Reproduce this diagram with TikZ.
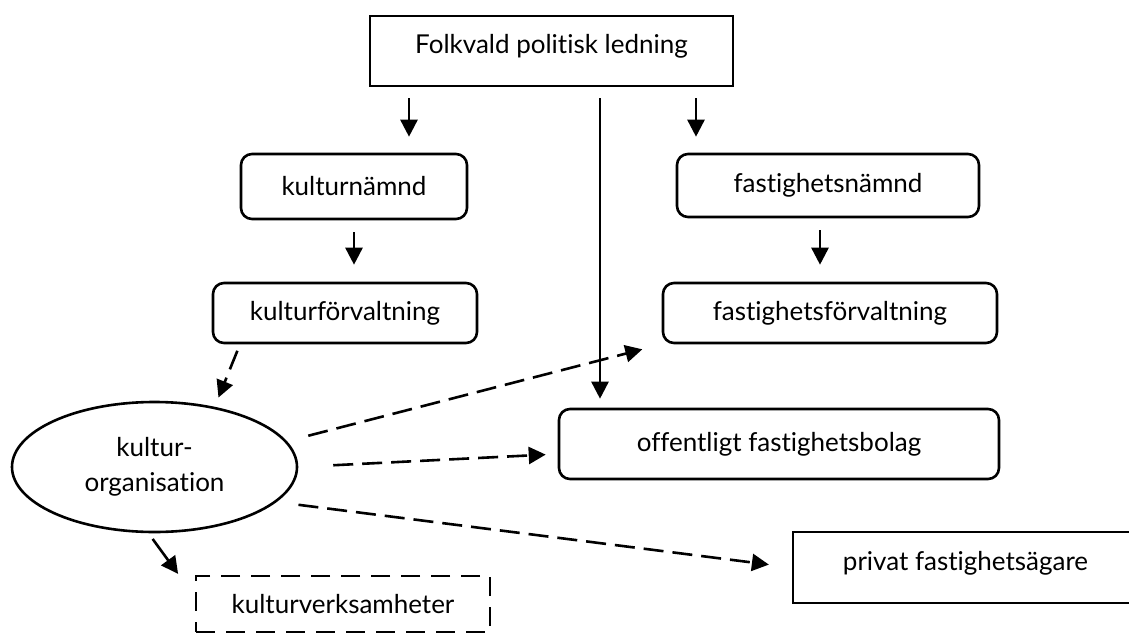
\documentclass[tikz,border=0pt]{standalone}
\usepackage{fontspec}
\setmainfont{Lato}[Ligatures=NoCommon]
\usetikzlibrary{shapes,shapes.geometric}
\usetikzlibrary{arrows.meta}

\begin{document}
\begin{tikzpicture}[x=1pt,y=-1pt]
\tikzset{ledbox/.style={rectangle,line width=2.6pt,inner sep=0pt,font=\fontsize{26}{30}\selectfont},
rbox/.style={ledbox,rounded corners=11pt},
dbox/.style={ledbox,dash pattern=on 19pt off 11pt},
oval/.style={ellipse,line width=2.6pt,align=center,font=\fontsize{26}{35}\selectfont},
flow/.style={line width=2.6pt,-{Triangle[length=17pt,width=17pt]}},
dflow/.style={flow,dash pattern=on 20pt off 9pt}}
\useasboundingbox (0,0) rectangle (1129,637);
\node[ledbox,draw,minimum width=363pt,minimum height=70pt,text depth=14pt](top) at (551.5,51){Folkvald politisk ledning};
\node[rbox,draw,minimum width=226pt,minimum height=65pt](kn) at (354,186.5){kulturnämnd};
\node[rbox,draw,minimum width=302pt,minimum height=63pt](fn) at (828,185.5){fastighetsnämnd};
\node[rbox,draw,minimum width=264pt,minimum height=60pt](kf) at (345,313){kulturförvaltning};
\node[rbox,draw,minimum width=334pt,minimum height=60pt](ff) at (830,313){fastighetsförvaltning};
\node[oval,draw,minimum width=285pt,minimum height=130pt](org) at (154.5,467){kultur-\\organisation};
\node[rbox,draw,minimum width=440pt,minimum height=70pt](ofb) at (779,444){offentligt fastighetsbolag};
\node[ledbox,draw,minimum width=345pt,minimum height=71pt,text depth=14pt](pfa) at (965.5,567.5){privat fastighetsägare};
\node[dbox,draw,minimum width=294pt,minimum height=56pt](kv) at (343,604){kulturverksamheter};
% styrning
\draw[flow,shorten <=11pt,shorten >=16pt]([xshift=-142.5pt]top.south) -- ([xshift=-142.5pt]top.south |- kn.north);
\draw[flow,shorten <=11pt,shorten >=16pt]([xshift=144.5pt]top.south) -- ([xshift=144.5pt]top.south |- fn.north);
\draw[flow,shorten <=12pt,shorten >=17pt](kn.south) -- (kn.south |- kf.north);
\draw[flow,shorten <=12pt,shorten >=17pt]([xshift=-8pt]fn.south) -- ([xshift=-8pt]fn.south |- ff.north);
% lokaler
\draw[dflow,shorten <=7pt,shorten >=10pt]([xshift=-105pt]kf.south) -- (org.45);
\draw[dflow,shorten <=22pt,shorten >=20pt](org.11) -- (ff.south west);
\draw[dflow,shorten <=35pt,shorten >=12pt](org.east) -- ([yshift=-10pt]ofb.west);
\draw[dflow,shorten <=22pt,shorten >=23pt](org.-16) -- (pfa.west);
\draw[flow,shorten <=7pt,shorten >=1pt]([xshift=-6pt]org.south) -- ([xshift=-16pt]kv.north west);
\draw[flow,shorten <=11pt,shorten >=9pt]([xshift=48.5pt]top.south) -- ([xshift=48.5pt]top.south |- ofb.north);
\end{tikzpicture}
\end{document}
